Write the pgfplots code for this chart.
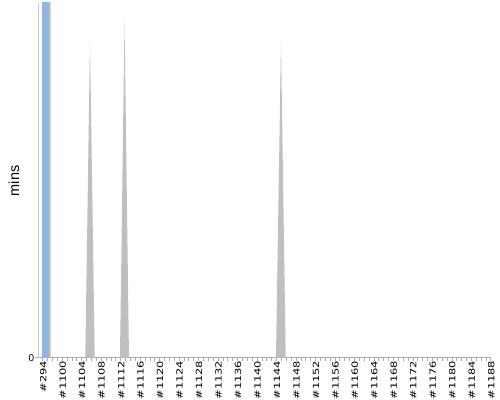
\documentclass[border=0pt]{standalone}
\usepackage{pgfplots}
\pgfplotsset{compat=1.18}
\usepackage{fontspec}
\setmainfont{Liberation Sans}
\newfontfamily\tickfont[FakeStretch=1.35]{DejaVu Sans}
\definecolor{barblue}{RGB}{143,181,225}
\definecolor{spikegray}{RGB}{191,191,191}
\definecolor{axisgray}{RGB}{170,170,170}
\begin{document}
\begin{tikzpicture}
\begin{axis}[
  at={(0,0)}, anchor=south west,
  scale only axis,
  width=452.5bp, height=354.5bp,
  xmin=-0.86, xmax=92.05,
  ymin=0, ymax=100,
  axis x line*=bottom, axis y line*=left,
  axis line style={axisgray, line width=0.8bp},
  x axis line style={-}, y axis line style={-, draw=black!20},
  tick align=outside,
  major tick length=3bp, minor tick length=3bp,
  tick style={axisgray, line width=0.6bp},
  xtick={0,4,...,92},
  minor xtick={0,1,...,92},
  xticklabels={\#294,\#1100,\#1104,\#1108,\#1112,\#1116,\#1120,\#1124,\#1128,\#1132,\#1136,\#1140,\#1144,\#1148,\#1152,\#1156,\#1160,\#1164,\#1168,\#1172,\#1176,\#1180,\#1184,\#1188},
  xticklabel style={rotate=90, anchor=east, inner sep=0pt, yshift=-0.5bp, font=\tickfont\fontsize{8.5bp}{9bp}\selectfont},
  ytick={0}, yticklabels={0},
  yticklabel style={font=\fontsize{10bp}{12bp}\selectfont, inner sep=1bp, yshift=-0.5bp},
  /pgf/number format/assume math mode=true,
  ylabel={mins},
  ylabel style={at={(axis description cs:-0.054,0.498)}, anchor=center, font=\fontsize{14.5bp}{16bp}\selectfont},
]
% gray edge behind the first bar
\addplot[fill=spikegray, draw=none] coordinates {(-0.14,0) (-0.14,130) (1.64,130) (1.64,0)} \closedcycle;
% first build (off the scale)
\addplot[fill=barblue, draw=none] coordinates {(-0.14,0) (-0.14,130) (1.29,130) (1.29,0)} \closedcycle;
% spikes
\addplot[fill=spikegray, draw=none] coordinates {(8.75,0) (9.71,89.0) (10.68,0)} \closedcycle;
\addplot[fill=spikegray, draw=none] coordinates {(15.87,0) (16.80,94.6) (17.72,0)} \closedcycle;
\addplot[fill=spikegray, draw=none] coordinates {(47.90,0) (48.93,89.0) (49.90,0)} \closedcycle;
\end{axis}
\pgfresetboundingbox
\path (-38.5bp,-42.5bp) rectangle (461.5bp,357.5bp);
\end{tikzpicture}
\end{document}
